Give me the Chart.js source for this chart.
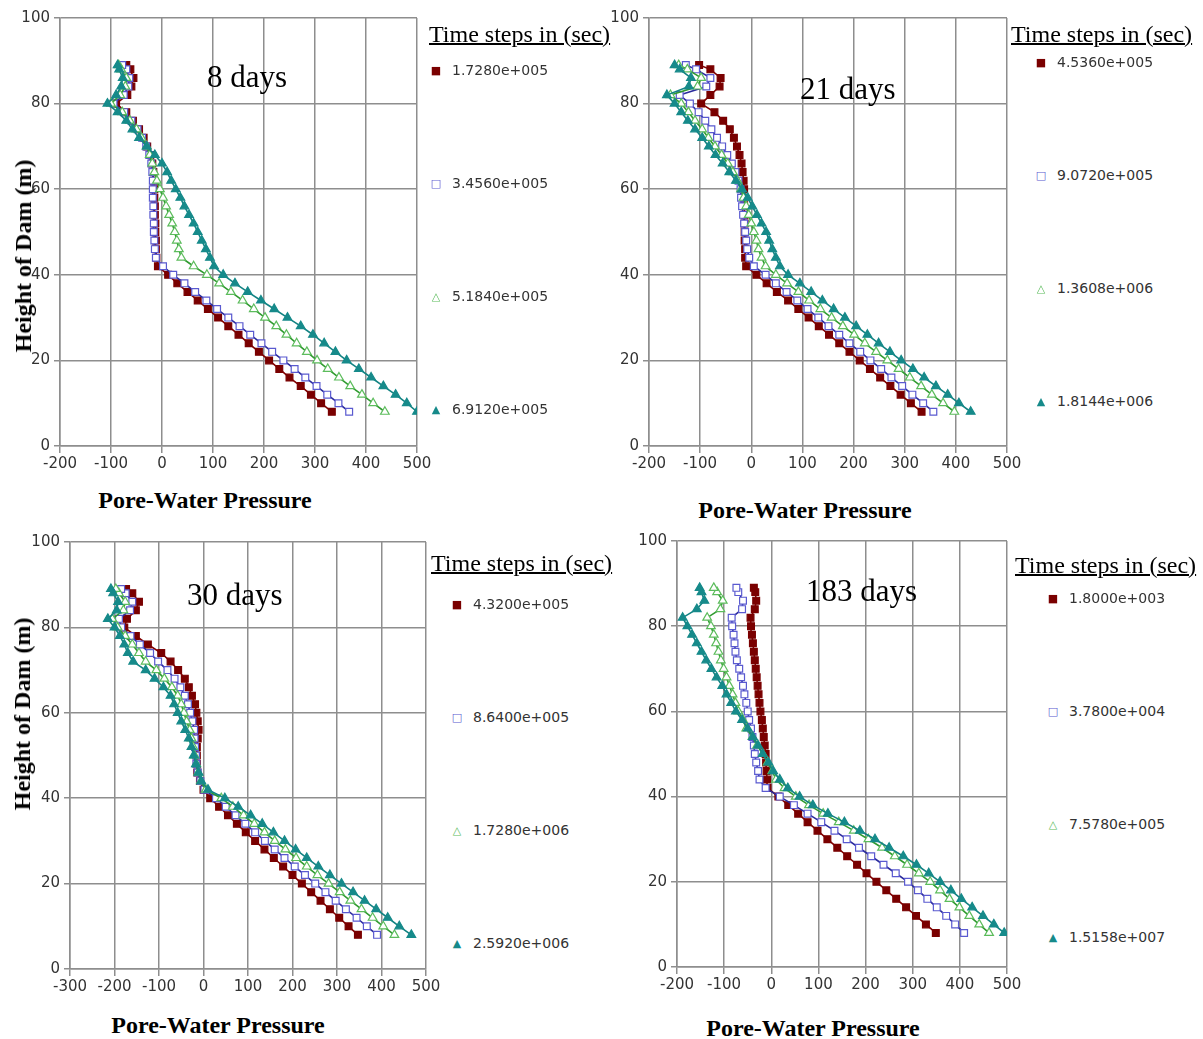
<!DOCTYPE html>
<html>
<head>
<meta charset="utf-8">
<script src="https://cdn.jsdelivr.net/npm/chart.js@4.4.1/dist/chart.umd.min.js"></script>
<style>
  body { margin: 0; background: #fff; width: 1203px; height: 1039px; position: relative; overflow: hidden; }
  canvas { position: absolute; }
  .t { position: absolute; white-space: nowrap; line-height: 1; }
  .serif { font-family: "Liberation Serif", "Times New Roman", serif; color: #000; }
  .axisTitle { font-weight: bold; font-size: 24px; transform: translate(-50%, -50%); }
  .yTitle { transform: translate(-50%, -50%) rotate(-90deg); }
  .legTitle { font-size: 24px; text-decoration: underline; text-decoration-thickness: 1.5px; transform: translateY(-50%); }
  .days { font-size: 31px; transform: translateY(-50%); }
  .entry { font-family: "DejaVu Sans", sans-serif; font-size: 14px; color: #333; transform: translateY(-50%); }
  .mark { font-family: "DejaVu Sans", sans-serif; font-size: 11px; transform: translate(-50%, -50%); }
</style>
</head>
<body>
<script>
// heights of the dam nodes (m)
const heights = [8,10,12,14,16,18,20,22,24,26,28,30,32,34,36,38,40,42,44,46,48,50,52,54,56,58,60,62,64,66,68,70,72,74,76,78,80,82,84,86,88,89];

// 8 days
const p1Steps = ['1.7280e+005', '3.4560e+005', '5.1840e+005', '6.9120e+005'];
const p1Red = [333,312,292,272,250,230,210,190,170,150,130,110,90,70,50,30,12,-8,-11,-12,-12,-13,-13,-14,-14,-15,-15,-16,-17,-19,-23,-29,-36,-45,-57,-70,-90,-68,-60,-56,-62,-70];
const p1Blue = [367,346,324,303,281,260,238,216,195,173,152,130,108,87,65,44,22,2,-12,-14,-15,-16,-16,-17,-17,-18,-18,-18,-19,-21,-25,-31,-39,-48,-60,-74,-95,-75,-66,-64,-70,-78];
const p1Green = [437,414,392,369,347,325,304,284,264,244,224,202,180,158,135,112,88,62,38,33,29,25,20,14,8,2,-4,-10,-15,-19,-24,-30,-40,-50,-63,-78,-100,-82,-72,-70,-80,-85];
const p1Teal = [500,480,458,434,410,386,362,340,318,296,272,246,220,194,168,143,120,102,94,86,78,70,62,53,44,36,27,18,10,0,-14,-30,-45,-58,-70,-87,-107,-90,-80,-77,-84,-87];

// 21 days
const p2Steps = ['4.5360e+005', '9.0720e+005', '1.3608e+006', '1.8144e+006'];
const p2Red = [333,312,292,272,252,232,212,192,172,152,132,112,92,72,50,30,10,-10,-12,-12,-13,-13,-13,-13,-14,-14,-14,-15,-17,-19,-23,-28,-34,-42,-55,-72,-98,-80,-62,-60,-80,-102];
const p2Blue = [356,336,315,295,274,254,233,213,192,172,151,131,110,90,69,48,28,5,-4,-8,-10,-12,-14,-16,-18,-20,-21,-25,-31,-38,-47,-57,-67,-78,-90,-103,-120,-140,-88,-80,-108,-128];
const p2Green = [397,375,353,332,310,288,266,244,222,201,179,157,135,113,92,70,48,28,20,14,10,5,0,-5,-10,-15,-20,-27,-36,-46,-58,-71,-84,-96,-110,-123,-137,-158,-105,-98,-125,-142];
const p2Teal = [429,406,384,361,338,316,293,271,249,227,205,183,161,139,117,95,72,56,48,41,35,29,20,11,2,-7,-18,-30,-43,-56,-70,-83,-96,-110,-124,-137,-150,-165,-122,-118,-140,-150];

// 30 days
const p3Steps = ['4.3200e+005', '8.6400e+005', '1.7280e+006', '2.5920e+006'];
const p3Red = [347,326,305,284,263,242,221,200,179,158,137,116,95,75,55,35,15,0,-8,-14,-15,-15,-15,-13,-11,-13,-16,-19,-26,-33,-42,-57,-74,-95,-125,-152,-178,-172,-152,-145,-160,-174];
const p3Blue = [390,367,344,320,297,274,251,228,205,182,160,138,116,94,72,50,28,2,-7,-13,-16,-17,-19,-20,-21,-25,-30,-35,-42,-52,-65,-81,-102,-120,-143,-164,-185,-190,-165,-160,-175,-185];
const p3Green = [429,404,380,355,330,306,281,256,232,208,184,160,137,114,90,66,40,5,-6,-12,-16,-20,-23,-27,-31,-38,-44,-50,-58,-71,-88,-106,-130,-145,-160,-176,-193,-205,-180,-176,-190,-197];
const p3Teal = [467,440,414,388,362,336,310,284,258,232,207,182,157,132,106,78,48,10,-5,-11,-17,-22,-27,-33,-41,-50,-58,-66,-74,-90,-110,-130,-158,-170,-178,-188,-200,-215,-195,-192,-203,-208];

// 183 days
const p4Steps = ['1.8000e+003', '3.7800e+004', '7.5780e+005', '1.5158e+007'];
const p4Red = [349,328,307,286,265,244,223,202,182,161,140,119,98,77,57,36,15,-8,-9,-10,-11,-12,-14,-16,-18,-20,-23,-25,-27,-29,-31,-33,-35,-37,-39,-41,-43,-44,-35,-32,-34,-37];
const p4Blue = [409,390,371,351,331,311,290,264,238,212,186,160,134,106,77,48,18,-12,-25,-28,-32,-35,-37,-40,-43,-47,-50,-53,-57,-60,-64,-68,-73,-76,-78,-80,-83,-84,-62,-60,-70,-74];
const p4Green = [462,441,420,399,378,358,337,313,288,262,235,206,175,143,110,80,52,28,10,2,-8,-18,-30,-40,-53,-60,-70,-76,-82,-89,-95,-101,-107,-112,-117,-122,-128,-136,-108,-103,-115,-122];
const p4Teal = [494,472,449,426,403,381,358,334,308,280,250,220,188,155,120,88,60,35,18,4,-6,-18,-28,-39,-50,-62,-75,-85,-95,-104,-116,-127,-138,-148,-158,-168,-178,-188,-158,-142,-148,-152];

const daysLabels = ['8 days', '21 days', '30 days', '183 days'];
const xMins = [-200, -200, -300, -200];

// series styles: red filled squares, blue open squares, green open triangles, teal filled triangles
const styles = [
  { line: '#800000', fill: '#7a0000', edge: '#7a0000', shape: 'rect', glyph: '\u25A0', order: 4 },
  { line: '#2b2b9c', fill: '#ffffff', edge: '#5a5ad0', shape: 'rect', glyph: '\u25A1', order: 3 },
  { line: '#2f9a2f', fill: '#ffffff', edge: '#5cbc5c', shape: 'triangle', glyph: '\u25B3', order: 2 },
  { line: '#128282', fill: '#168a8a', edge: '#168a8a', shape: 'triangle', glyph: '\u25B2', order: 1 }
];

const panels = [
  { steps: p1Steps, data: [p1Red, p1Blue, p1Green, p1Teal], L: 60, R: 417, T: 17, B: 446,
    legX: 429, legY: 34, markX: 436, row0: 70, dayX: 207, dayY: 76, xt: [205, 500], yt: [23, 256] },
  { steps: p2Steps, data: [p2Red, p2Blue, p2Green, p2Teal], L: 649, R: 1007, T: 17, B: 446,
    legX: 1011, legY: 34, markX: 1041, row0: 62, dayX: 800, dayY: 88, xt: [805, 510], yt: null },
  { steps: p3Steps, data: [p3Red, p3Blue, p3Green, p3Teal], L: 70, R: 426, T: 541, B: 969,
    legX: 431, legY: 563, markX: 457, row0: 604, dayX: 187, dayY: 594, xt: [218, 1025], yt: [22, 714] },
  { steps: p4Steps, data: [p4Red, p4Blue, p4Green, p4Teal], L: 677, R: 1007, T: 540, B: 967,
    legX: 1015, legY: 565, markX: 1053, row0: 598, dayX: 806, dayY: 590, xt: [813, 1028], yt: null }
];

const tickFont = { family: 'DejaVu Sans', size: 15 };
const gridColor = '#8e8e8e';

function addText(cls, text, x, y, color) {
  const d = document.createElement('div');
  d.className = 't ' + cls;
  d.textContent = text;
  d.style.left = x + 'px';
  d.style.top = y + 'px';
  if (color) d.style.color = color;
  document.body.appendChild(d);
  return d;
}

function toPoints(values) {
  return values.map(function(v, i) { return { x: v, y: heights[i] }; });
}

panels.forEach(function(p, k) {
  const yw = 48, padTop = 12, padRight = 18, xh = 32;
  const cv = document.createElement('canvas');
  cv.width = (p.R - p.L) + yw + padRight;
  cv.height = (p.B - p.T) + padTop + xh;
  cv.style.left = (p.L - yw) + 'px';
  cv.style.top = (p.T - padTop) + 'px';
  document.body.appendChild(cv);

  const datasets = p.data.map(function(vals, j) {
    const s = styles[j];
    return {
      label: p.steps[j],
      data: toPoints(vals),
      showLine: true,
      borderColor: s.line,
      borderWidth: 1.6,
      pointStyle: s.shape,
      pointRadius: s.shape === 'rect' ? 4.8 : 5,
      pointBackgroundColor: s.fill,
      pointBorderColor: s.edge,
      pointBorderWidth: 1.2,
      order: s.order
    };
  });

  new Chart(cv, {
    type: 'scatter',
    data: { datasets: datasets },
    options: {
      responsive: false,
      animation: false,
      layout: { padding: { top: padTop, right: padRight, left: 0, bottom: 0 } },
      plugins: { legend: { display: false }, tooltip: { enabled: false } },
      scales: {
        x: {
          type: 'linear', min: xMins[k], max: 500,
          ticks: { stepSize: 100, font: tickFont, color: '#333', padding: 2, maxRotation: 0, autoSkip: false },
          grid: { color: gridColor, lineWidth: 1.5, tickLength: 7 },
          border: { color: gridColor, width: 1.5 },
          afterFit: function(s) { s.height = xh; }
        },
        y: {
          type: 'linear', min: 0, max: 100,
          ticks: { stepSize: 20, font: tickFont, color: '#333', padding: 4 },
          grid: { color: gridColor, lineWidth: 1.5, tickLength: 6 },
          border: { color: gridColor, width: 1.5 },
          afterFit: function(s) { s.width = yw; }
        }
      }
    }
  });

  // legend built from the datasets
  addText('serif legTitle', 'Time steps in (sec)', p.legX, p.legY);
  datasets.forEach(function(ds, j) {
    const y = p.row0 + j * 113;
    addText('mark', styles[j].glyph, p.markX, y, styles[j].edge);
    addText('entry', ds.label, p.markX + 16, y);
  });

  addText('serif days', daysLabels[k], p.dayX, p.dayY);
  addText('serif axisTitle', 'Pore-Water Pressure', p.xt[0], p.xt[1]);
  if (p.yt) addText('serif axisTitle yTitle', 'Height of Dam (m)', p.yt[0], p.yt[1]);
});
</script>
</body>
</html>
